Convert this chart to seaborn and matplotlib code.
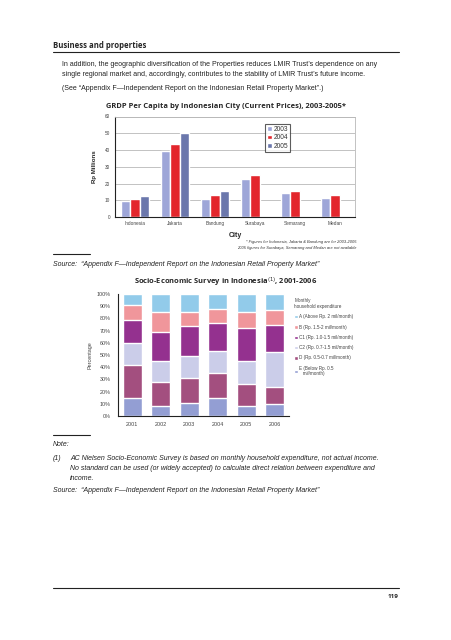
import numpy as np
import pandas as pd
import seaborn as sns
import matplotlib.pyplot as plt
from matplotlib.patches import Patch

# GRDP per capita chart
cities = ["Indonesia", "Jakarta", "Bandung", "Surabaya", "Semarang", "Medan"]
years = ["2003", "2004", "2005"]
grdp_2003 = [9.5, 39.3, 10.5, 22.5, 14.2, 11.2]
grdp_2004 = [10.5, 43.3, 13.0, 25.0, 15.3, 13.0]
grdp_2005 = [12.3, 50.0, 15.3, np.nan, np.nan, np.nan]
year_colors = ["#9ea6d8", "#e3262c", "#6b77ac"]

# socio-economic survey chart
survey_years = ["2001", "2002", "2003", "2004", "2005", "2006"]
classes = ["A (Above Rp. 2 mil/month)", "B (Rp. 1.5-2 mil/month)",
           "C1 (Rp. 1.0-1.5 mil/month)", "C2 (Rp. 0.7-1.5 mil/month)",
           "D (Rp. 0.5-0.7 mil/month)", "E (Below Rp. 0.5\n   mil/month)"]
share_E = [15, 8.5, 11, 14.5, 8.5, 9.5]
share_D = [27, 19, 20.5, 21, 18, 14]
share_C2 = [18, 17.5, 17.5, 18, 18.5, 29]
share_C1 = [19, 23.5, 24.5, 22.5, 27.5, 22]
share_B = [12, 17, 12, 12, 13, 12.5]
share_A = [9, 14.5, 14.5, 12, 14.5, 13]
class_colors = ["#92cbea", "#f0969b", "#94318f", "#cbcde9", "#a34f7f", "#939ed3"]

sns.set_style("white")
plt.rcParams["font.family"] = ["Liberation Sans", "DejaVu Sans"]

W, H = 452, 640
fig = plt.figure(figsize=(W / 100, H / 100), dpi=100)


def fx(x):
    return x / W


def fy(y):
    return 1 - y / H


def hline(y, x0, x1, lw=0.8):
    fig.add_artist(plt.Line2D([fx(x0), fx(x1)], [fy(y), fy(y)], color="#222222", lw=lw))


# page text
fig.text(fx(53), fy(45), "Business and properties", fontsize=5.6, fontweight="bold",
         family=["Open Sans", "DejaVu Sans"], va="center")
hline(52, 53, 399)
fig.text(fx(62), fy(65), "In addition, the geographic diversification of the Properties reduces LMIR Trust\u2019s dependence on any",
         fontsize=5.0, va="center", color="#222222")
fig.text(fx(62), fy(75), "single regional market and, accordingly, contributes to the stability of LMIR Trust\u2019s future income.",
         fontsize=5.0, va="center", color="#222222")
fig.text(fx(62), fy(88), "(See \u201cAppendix F\u2014Independent Report on the Indonesian Retail Property Market\u201d.)",
         fontsize=5.0, va="center", color="#222222")

# chart 1
grdp = pd.DataFrame({
    "City": cities * 3,
    "Year": [y for y in years for _ in cities],
    "Value": grdp_2003 + grdp_2004 + grdp_2005,
}).dropna()

ax1 = fig.add_axes([fx(115), fy(217), fx(355) - fx(115), fy(116.5) - fy(217)])
sns.barplot(data=grdp, x="City", y="Value", hue="Year", order=cities, hue_order=years,
            palette=year_colors, width=0.68, gap=0, saturation=1, ax=ax1, legend=False)
ax1.set_ylim(0, 60)
ax1.set_xlim(-0.5, 5.5)
ax1.set_yticks(range(0, 61, 10))
ax1.yaxis.grid(True, color="#b8b8b8", lw=0.6)
ax1.set_axisbelow(True)
ax1.tick_params(axis="y", labelsize=3.4, colors="#444444", length=2, width=0.5, pad=1.5)
ax1.tick_params(axis="x", which="major", labelsize=3.4, colors="#444444", length=0, pad=3)
ax1.set_xticks(np.arange(-0.5, 6, 1), minor=True)
ax1.tick_params(axis="x", which="minor", length=2.5, width=0.6, color="#222222")
for s in ["top", "right"]:
    ax1.spines[s].set_color("#b8b8b8")
    ax1.spines[s].set_linewidth(0.6)
for s in ["left", "bottom"]:
    ax1.spines[s].set_color("#222222")
    ax1.spines[s].set_linewidth(0.8)
ax1.set_ylabel("Rp Millions", fontsize=4.4, fontweight="bold", labelpad=6)
ax1.set_xlabel("City", fontsize=5.0, fontweight="bold", labelpad=4)
handles = [Patch(facecolor=c, label=y) for c, y in zip(year_colors, years)]
leg1 = ax1.legend(handles=handles, loc="upper left", bbox_to_anchor=(0.625, 0.925), fontsize=4.8,
                  frameon=True, fancybox=False, edgecolor="#333333", handlelength=0.7,
                  handleheight=0.7, handletextpad=0.3, labelspacing=0.2, borderpad=0.3,
                  borderaxespad=0)
leg1.get_frame().set_linewidth(0.8)
for t in leg1.get_texts():
    t.set_color("#333333")

fig.text(fx(226), fy(107), "GRDP Per Capita by Indonesian City (Current Prices), 2003-2005*",
         fontsize=5.4, fontweight="bold", ha="center", va="center",
         family=["Open Sans", "DejaVu Sans"])
fig.text(fx(357), fy(242), "* Figures for Indonesia, Jakarta & Bandung are for 2003-2005",
         fontsize=2.9, style="italic", ha="right", va="center", color="#333333")
fig.text(fx(357), fy(248), "2005 figures for Surabaya, Semarang and Medan are not available",
         fontsize=2.9, style="italic", ha="right", va="center", color="#333333")
hline(254, 53, 90)
fig.text(fx(53), fy(264), "Source:  \u201cAppendix F\u2014Independent Report on the Indonesian Retail Property Market\u201d",
         fontsize=5.0, style="italic", va="center", color="#222222")

# chart 2: stacked by overlaying cumulative shares
shares = np.array([share_A, share_B, share_C1, share_C2, share_D, share_E])
cum = np.cumsum(shares[::-1], axis=0)[::-1]  # cum[0] = total up to A

ax2 = fig.add_axes([fx(118), fy(416), fx(289) - fx(118), fy(294) - fy(416)])
for i in range(len(classes)):
    sns.barplot(x=survey_years, y=cum[i], color=class_colors[i], saturation=1,
                width=0.66, ax=ax2)
ax2.set_ylim(0, 100)
ax2.set_xlim(-0.5, 5.5)
ax2.set_yticks(range(0, 101, 10))
ax2.set_yticklabels([f"{v}%" for v in range(0, 101, 10)])
ax2.tick_params(axis="y", labelsize=3.9, colors="#444444", length=0, pad=5)
ax2.tick_params(axis="x", labelsize=3.9, colors="#444444", length=0, pad=4)
sns.despine(ax=ax2)
for s in ["left", "bottom"]:
    ax2.spines[s].set_color("#222222")
    ax2.spines[s].set_linewidth(0.8)
ax2.set_ylabel("Percentage", fontsize=3.9, color="#444444", labelpad=3)
ax2.set_xlabel("")
handles2 = [Patch(facecolor=c, label=l) for c, l in zip(class_colors, classes)]
leg2 = ax2.legend(handles=handles2, loc="upper left", bbox_to_anchor=(1.02, 0.98),
                  title="Monthly\nhousehold expenditure", fontsize=3.3, title_fontsize=3.3,
                  frameon=False, handlelength=0.75, handleheight=0.75, handletextpad=0.3,
                  labelspacing=1.15, borderaxespad=0, alignment="left")
for t in leg2.get_texts():
    t.set_color("#444444")
leg2.get_title().set_color("#444444")

fig.text(fx(226), fy(282), "Socio-Economic Survey in Indonesia$^{(1)}$, 2001-2006",
         fontsize=5.4, fontweight="bold", ha="center", va="center",
         family=["Open Sans", "DejaVu Sans"])

# notes
hline(435, 53, 90)
fig.text(fx(53), fy(445), "Note:", fontsize=5.0, style="italic", va="center", color="#222222")
fig.text(fx(53), fy(458), "(1)", fontsize=5.0, style="italic", va="center", color="#222222")
note_lines = [
    "AC Nielsen Socio-Economic Survey is based on monthly household expenditure, not actual income.",
    "No standard can be used (or widely accepted) to calculate direct relation between expenditure and",
    "income.",
]
for k, line in enumerate(note_lines):
    fig.text(fx(70), fy(458 + 10.5 * k), line, fontsize=5.0, style="italic", va="center",
             color="#222222")
fig.text(fx(53), fy(491), "Source:  \u201cAppendix F\u2014Independent Report on the Indonesian Retail Property Market\u201d",
         fontsize=5.0, style="italic", va="center", color="#222222")

hline(588, 53, 399)
fig.text(fx(399), fy(596), "119", fontsize=4.6, fontweight="bold", ha="right", va="center",
         family=["Open Sans", "DejaVu Sans"])

fig.savefig("out.png", dpi=100)
